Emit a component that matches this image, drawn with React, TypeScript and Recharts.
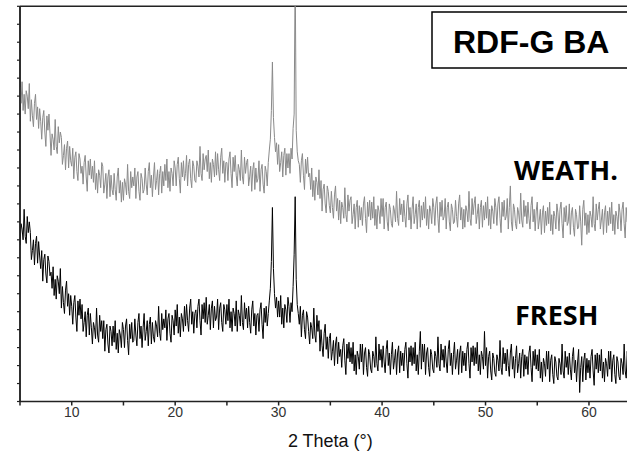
import React from 'react';
import { LineChart, Line, XAxis, YAxis, ReferenceLine } from 'recharts';

// 2θ sampled every 0.1° from 5° to 64°
const START = 5;
const STEP = 0.1;

// weathered sample (grey trace), arbitrary intensity units, one row per degree
const weathered = [
  17.5, 16.6, 17.8, 16.2, 17.1, 16.0, 17.3, 17.0, 16.3, 17.7,
  15.6, 16.8, 15.9, 15.3, 16.6, 17.1, 15.7, 16.4, 15.2, 16.3,
  15.6, 14.6, 15.8, 16.2, 15.0, 14.2, 15.9, 15.1, 16.0, 14.9,
  13.7, 14.9, 14.6, 14.0, 15.7, 14.2, 13.8, 15.3, 14.4, 15.0,
  14.7, 13.2, 13.7, 14.3, 12.9, 14.1, 14.5, 13.0, 14.2, 13.4,
  13.1, 14.1, 12.4, 13.6, 13.9, 12.8, 12.3, 13.8, 13.5, 12.7,
  13.1, 12.1, 13.3, 13.7, 12.5, 11.7, 13.4, 12.6, 13.5, 12.4,
  13.1, 12.2, 13.4, 11.8, 12.7, 11.6, 12.9, 12.6, 11.9, 13.3,
  13.1, 11.6, 12.1, 12.7, 11.3, 12.5, 12.9, 11.4, 12.6, 11.8,
  11.5, 12.7, 11.8, 11.2, 12.5, 13.0, 11.6, 12.3, 11.1, 12.2,
  11.2, 12.4, 12.1, 11.5, 13.2, 11.7, 11.3, 12.8, 11.9, 12.5,
  12.0, 13.0, 11.3, 12.5, 12.8, 11.7, 11.2, 12.7, 12.4, 11.6,
  11.8, 13.0, 12.1, 11.5, 12.8, 13.3, 11.9, 12.6, 11.4, 12.5,
  13.3, 11.8, 12.3, 12.9, 11.5, 12.7, 13.1, 11.6, 12.8, 12.0,
  13.2, 12.3, 13.5, 11.9, 12.8, 11.7, 13.0, 12.7, 12.0, 13.4,
  13.0, 12.0, 13.2, 13.6, 12.4, 11.6, 13.3, 12.5, 13.4, 12.3,
  12.7, 13.7, 12.0, 13.2, 13.5, 12.4, 11.9, 13.4, 13.1, 12.3,
  12.2, 13.4, 13.1, 12.5, 14.2, 12.7, 12.3, 13.8, 12.9, 13.5,
  13.7, 12.8, 14.0, 12.4, 13.3, 12.2, 13.5, 13.2, 12.5, 13.9,
  12.6, 13.8, 12.9, 12.3, 13.6, 14.1, 12.7, 13.4, 12.2, 13.3,
  13.3, 12.3, 13.5, 13.9, 12.7, 11.9, 13.6, 12.8, 13.7, 12.6,
  12.0, 13.2, 12.9, 12.3, 14.0, 12.5, 12.1, 13.6, 12.7, 13.3,
  13.5, 12.0, 12.5, 13.1, 11.7, 12.9, 13.3, 11.8, 13.0, 12.2,
  12.4, 13.4, 11.7, 12.9, 13.2, 12.1, 11.6, 13.1, 12.8, 12.0,
  13.3, 14.0, 14.6, 16.2, 18.9, 15.8, 14.7, 13.9, 14.4, 13.2,
  14.3, 12.8, 13.3, 13.9, 12.5, 13.7, 14.1, 12.6, 13.8, 13.0,
  13.8, 12.7, 14.1, 13.5, 15.2, 16.0, 24.0, 15.1, 13.9, 13.4,
  13.2, 12.2, 13.4, 13.8, 12.6, 11.8, 13.5, 12.7, 13.6, 12.5,
  12.7, 11.8, 13.0, 11.4, 12.3, 11.2, 12.5, 12.2, 11.5, 12.9,
  11.3, 12.3, 10.6, 11.8, 12.1, 11.0, 10.5, 12.0, 11.7, 10.9,
  10.5, 11.7, 10.8, 10.2, 11.5, 12.0, 10.6, 11.3, 10.1, 11.2,
  9.9, 11.1, 10.8, 10.2, 11.9, 10.4, 10.0, 11.5, 10.6, 11.2,
  11.4, 9.9, 10.4, 11.0, 9.6, 10.8, 11.2, 9.7, 10.9, 10.1,
  10.8, 9.8, 11.0, 11.4, 10.2, 9.4, 11.1, 10.3, 11.2, 10.1,
  11.1, 10.2, 11.4, 9.8, 10.7, 9.6, 10.9, 10.6, 9.9, 11.3,
  10.3, 11.3, 9.6, 10.8, 11.1, 10.0, 9.5, 11.0, 10.7, 9.9,
  9.7, 10.9, 10.6, 10.0, 11.7, 10.2, 9.8, 11.3, 10.4, 11.0,
  10.0, 11.2, 10.3, 9.7, 11.0, 11.5, 10.1, 10.8, 9.6, 10.7,
  11.4, 9.9, 10.4, 11.0, 9.6, 10.8, 11.2, 9.7, 10.9, 10.1,
  11.1, 10.2, 11.4, 9.8, 10.7, 9.6, 10.9, 10.6, 9.9, 11.3,
  10.8, 9.8, 11.0, 11.4, 10.2, 9.4, 11.1, 10.3, 11.2, 10.1,
  10.3, 11.3, 9.6, 10.8, 11.1, 10.0, 9.5, 11.0, 10.7, 9.9,
  10.0, 11.2, 10.3, 9.7, 11.0, 11.5, 10.1, 10.8, 9.6, 10.7,
  9.7, 10.9, 10.6, 10.0, 11.7, 10.2, 9.8, 11.3, 10.4, 11.0,
  11.4, 9.9, 10.4, 11.0, 9.6, 10.8, 11.2, 9.7, 10.9, 10.1,
  11.1, 10.2, 11.4, 9.8, 10.7, 9.6, 10.9, 10.6, 9.9, 11.3,
  10.8, 9.8, 11.0, 11.4, 10.2, 9.4, 11.1, 10.3, 11.2, 10.1,
  10.3, 11.3, 9.6, 10.8, 12.0, 10.0, 9.5, 11.0, 10.7, 9.9,
  9.6, 10.8, 10.5, 9.9, 11.6, 10.1, 9.7, 11.2, 10.3, 10.9,
  9.9, 11.1, 10.2, 9.6, 10.9, 11.4, 10.0, 10.7, 9.5, 10.6,
  11.1, 9.6, 10.1, 10.7, 9.3, 10.5, 10.9, 9.4, 10.6, 9.8,
  10.8, 9.9, 11.1, 9.5, 10.4, 9.3, 10.6, 10.3, 9.6, 11.0,
  10.5, 9.5, 10.7, 11.1, 9.9, 9.1, 10.8, 10.0, 10.9, 9.8,
  10.0, 11.0, 9.3, 10.5, 10.8, 9.7, 9.2, 10.7, 10.4, 9.6,
  9.7, 10.9, 10.0, 8.7, 10.7, 11.2, 9.8, 10.5, 9.3, 10.4,
  9.4, 10.6, 10.3, 9.7, 11.4, 9.9, 9.5, 11.0, 10.1, 10.7,
  11.1, 9.6, 10.1, 10.7, 9.3, 10.5, 10.9, 9.4, 10.6, 9.8,
  10.8, 9.9, 11.1, 9.5, 10.4, 9.3, 10.6, 10.3, 9.6, 11.0,
  10.5, 9.5, 10.7, 11.1, 9.9, 9.1, 10.8, 10.0, 10.9, 9.8,
  10.2,
];

// fresh sample (black trace)
const fresh = [
  8.7, 9.9, 9.6, 9.0, 10.7, 9.2, 8.8, 10.3, 9.4, 10.0,
  9.4, 7.9, 8.4, 9.0, 7.6, 8.8, 9.2, 7.7, 8.9, 8.1,
  7.4, 8.4, 6.7, 7.9, 8.2, 7.1, 6.6, 8.1, 7.8, 7.0,
  7.2, 6.3, 7.5, 5.9, 6.8, 5.7, 7.0, 6.7, 6.0, 7.4,
  5.2, 6.4, 5.5, 4.9, 6.2, 6.7, 5.3, 6.0, 4.8, 5.9,
  5.3, 4.3, 5.5, 5.9, 4.7, 3.9, 5.6, 4.8, 5.7, 4.6,
  5.4, 3.9, 4.4, 5.0, 3.6, 4.8, 5.2, 3.7, 4.9, 4.1,
  3.2, 4.4, 4.1, 3.5, 5.2, 3.7, 3.3, 4.8, 3.9, 4.5,
  3.5, 4.5, 2.8, 4.0, 4.3, 3.2, 2.7, 4.2, 3.9, 3.1,
  4.2, 3.3, 4.5, 2.9, 3.8, 2.7, 4.0, 3.7, 3.0, 4.4,
  4.0, 3.0, 4.2, 4.6, 3.4, 2.6, 4.3, 3.5, 4.4, 3.3,
  3.4, 4.6, 3.7, 3.1, 4.4, 4.9, 3.5, 4.2, 3.0, 4.1,
  4.9, 3.4, 3.9, 4.5, 3.1, 4.3, 4.7, 3.2, 4.4, 3.6,
  3.3, 4.5, 4.2, 3.6, 5.3, 3.8, 3.4, 4.9, 4.0, 4.6,
  4.1, 5.1, 3.4, 4.6, 4.9, 3.8, 3.3, 4.8, 4.5, 3.7,
  5.1, 4.2, 5.4, 3.8, 4.7, 3.6, 4.9, 4.6, 3.9, 5.3,
  4.2, 5.4, 4.5, 3.9, 5.2, 5.7, 4.3, 5.0, 3.8, 4.9,
  5.1, 4.1, 5.3, 5.7, 4.5, 3.7, 5.4, 4.6, 5.5, 4.4,
  5.8, 4.3, 4.8, 5.4, 4.0, 5.2, 5.6, 4.1, 5.3, 4.5,
  4.7, 5.7, 4.0, 5.2, 5.5, 4.4, 3.9, 5.4, 5.1, 4.3,
  5.4, 4.5, 5.7, 4.1, 5.0, 3.9, 5.2, 4.9, 4.2, 5.6,
  3.9, 5.1, 4.8, 4.2, 5.9, 4.4, 4.0, 5.5, 4.6, 5.2,
  4.1, 5.3, 4.4, 3.8, 5.1, 5.6, 4.2, 4.9, 3.7, 4.8,
  4.9, 3.9, 5.1, 5.5, 4.3, 3.5, 5.2, 4.4, 5.3, 4.2,
  4.9, 5.6, 6.3, 7.8, 10.8, 7.4, 6.0, 5.2, 5.8, 4.7,
  5.6, 4.7, 5.9, 4.3, 5.2, 4.1, 5.4, 5.1, 4.4, 5.8,
  5.3, 4.4, 5.5, 5.0, 6.4, 8.2, 11.4, 6.8, 5.4, 4.9,
  4.3, 5.3, 3.6, 4.8, 5.1, 4.0, 3.5, 5.0, 4.7, 3.9,
  3.2, 4.4, 4.1, 3.5, 5.2, 3.7, 3.3, 4.8, 3.9, 4.5,
  2.8, 4.0, 3.1, 2.5, 3.8, 4.3, 2.9, 3.6, 2.4, 3.5,
  3.8, 2.3, 2.8, 3.4, 2.0, 3.2, 3.6, 2.1, 3.3, 2.5,
  2.9, 1.9, 3.1, 3.5, 2.3, 1.5, 3.2, 2.4, 3.3, 2.2,
  3.0, 2.1, 3.3, 1.7, 2.6, 1.5, 2.8, 2.5, 1.8, 3.2,
  2.2, 3.2, 1.5, 2.7, 3.0, 1.9, 1.4, 2.9, 2.6, 1.8,
  1.6, 2.8, 2.5, 1.9, 3.6, 2.1, 1.7, 3.2, 2.3, 2.9,
  1.9, 3.1, 2.2, 1.6, 2.9, 3.4, 2.0, 2.7, 1.5, 2.6,
  3.3, 1.8, 2.3, 2.9, 1.5, 2.7, 3.1, 1.6, 2.8, 2.0,
  2.7, 1.7, 2.9, 3.3, 2.1, 1.3, 3.0, 2.2, 3.1, 2.0,
  3.0, 2.1, 3.3, 1.7, 2.6, 1.5, 2.8, 3.9, 1.8, 3.2,
  2.2, 3.2, 1.5, 2.7, 3.0, 1.9, 1.4, 2.9, 2.6, 1.8,
  1.6, 2.8, 2.5, 1.9, 3.6, 2.1, 1.7, 3.2, 2.3, 2.9,
  1.9, 3.1, 2.2, 1.6, 2.9, 3.4, 2.0, 2.7, 1.5, 2.6,
  3.3, 1.8, 2.3, 2.9, 1.5, 2.7, 3.1, 1.6, 2.8, 2.0,
  2.7, 1.7, 2.9, 3.3, 2.1, 1.3, 3.0, 2.2, 3.1, 2.0,
  3.0, 2.1, 3.3, 1.7, 2.6, 1.5, 2.8, 2.5, 1.8, 3.9,
  2.0, 3.0, 1.3, 2.5, 2.8, 1.7, 1.2, 2.7, 2.4, 1.6,
  1.4, 2.6, 2.3, 1.7, 3.4, 1.9, 1.5, 3.0, 2.1, 2.7,
  1.7, 2.9, 2.0, 1.4, 2.7, 3.2, 1.8, 2.5, 1.3, 2.4,
  3.1, 1.6, 2.1, 2.7, 1.3, 2.5, 2.9, 1.4, 2.6, 1.8,
  2.5, 1.5, 2.7, 3.1, 1.9, 1.1, 2.8, 2.0, 2.9, 1.8,
  2.6, 1.7, 2.9, 1.3, 2.2, 1.1, 2.4, 2.1, 1.4, 2.8,
  1.8, 2.8, 1.1, 2.3, 2.6, 1.5, 1.0, 2.5, 2.2, 1.4,
  1.2, 2.4, 2.1, 1.5, 3.2, 1.7, 1.3, 2.8, 1.9, 2.5,
  1.5, 2.7, 1.8, 1.2, 2.5, 3.0, 1.6, 2.3, 1.1, 2.2,
  2.9, 0.5, 1.9, 2.5, 1.1, 2.3, 2.7, 1.2, 2.4, 1.6,
  2.3, 1.3, 2.5, 2.9, 1.7, 0.9, 2.6, 1.8, 2.7, 1.6,
  2.6, 1.7, 2.9, 1.3, 2.2, 1.1, 2.4, 2.1, 1.4, 2.8,
  1.8, 2.8, 1.1, 2.3, 2.6, 1.5, 1.0, 2.5, 2.2, 1.4,
  1.2, 2.4, 2.1, 1.5, 3.2, 1.7, 1.3, 2.8, 1.9, 2.5,
  1.9,
];

const xTicks = [5, 10, 15, 20, 25, 30, 35, 40, 45, 50, 55, 60, 65];
const yTicks = [0, 1, 2, 3, 4, 5, 6, 7, 8, 9, 10, 11, 12, 13, 14, 15, 16, 17, 18, 19, 20, 21, 22];

const data = weathered.map((w, i) => ({
  x: Number((START + i * STEP).toFixed(1)),
  weathered: w,
  fresh: fresh[i],
}));

const AXIS = '#222';
const sans = '"Liberation Sans", Arial, sans-serif';
const calibriLike = '"Open Sans", sans-serif';

export default function App() {
  return (
    <div style={{ position: 'absolute', left: 0, top: 0, width: 627, height: 451, overflow: 'hidden', background: '#fff' }}>
      <LineChart width={660} height={451} data={data} margin={{ top: 6.3, right: 19.3, left: 0, bottom: 0 }}>
        <XAxis
          dataKey="x"
          type="number"
          domain={[5, 65]}
          ticks={xTicks}
          allowDataOverflow
          height={49.5}
          stroke={AXIS}
          strokeWidth={1.5}
          tickSize={4}
          tickFormatter={(v: number) => (v % 10 === 0 ? String(v) : '')}
          tick={{ fontSize: 14, fill: '#333', fontFamily: sans }}
          label={{ value: '2 Theta (°)', position: 'insideBottom', offset: 4.5, fontSize: 18, fill: '#111', fontFamily: sans }}
        />
        <YAxis
          type="number"
          domain={[0, 22]}
          ticks={yTicks}
          interval={0}
          allowDataOverflow
          width={20}
          stroke={AXIS}
          strokeWidth={1.5}
          tickSize={3}
          tickLine={{ stroke: AXIS, strokeWidth: 1.2 }}
          tickFormatter={() => ''}
          tick={{ fontSize: 1 }}
        />
        <ReferenceLine x={5} stroke={AXIS} strokeWidth={1.5} />
        <ReferenceLine y={22} stroke={AXIS} strokeWidth={1.5} />
        <Line dataKey="weathered" stroke="#8a8a8a" strokeWidth={1} dot={false} isAnimationActive={false} />
        <Line dataKey="fresh" stroke="#000" strokeWidth={1} dot={false} isAnimationActive={false} />
        <rect x={432} y={12} width={240} height={56} fill="#fff" stroke="#000" strokeWidth={1.5} />
        <text x={453} y={53} fontSize={32} fontWeight={700} fontFamily={sans} fill="#000">RDF-G BA</text>
        <text x={514} y={180} fontSize={27} fontWeight={700} fontFamily={calibriLike} fill="#000">WEATH.</text>
        <text x={515} y={325} fontSize={27} fontWeight={700} fontFamily={calibriLike} fill="#000">FRESH</text>
      </LineChart>
    </div>
  );
}
